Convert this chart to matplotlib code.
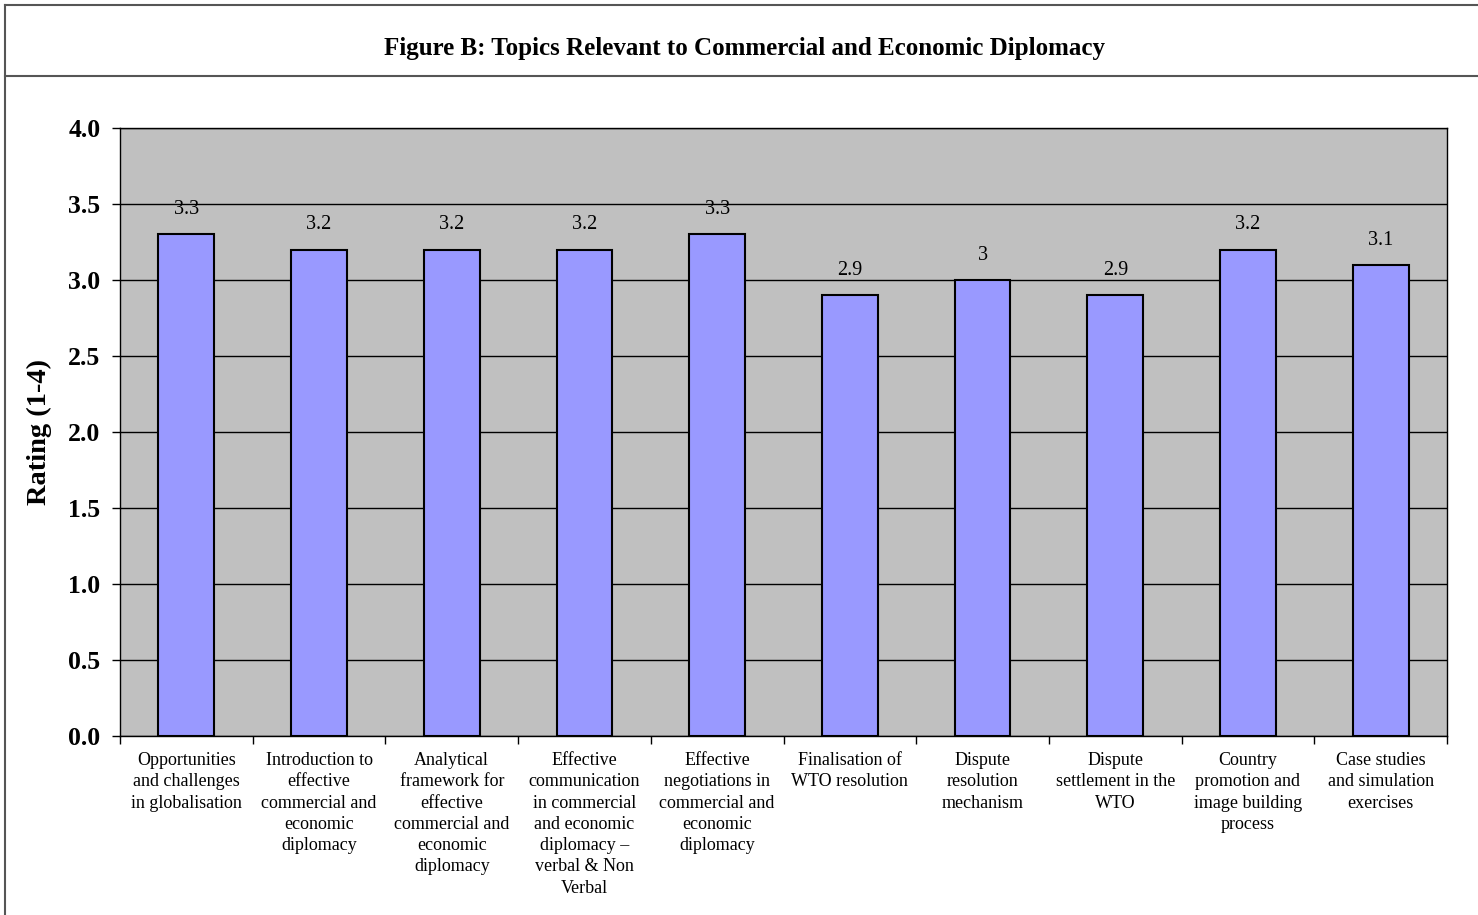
import numpy as np
import matplotlib
matplotlib.use("Agg")
import matplotlib.pyplot as plt
from matplotlib.lines import Line2D

plt.rcParams['font.family'] = ['Liberation Serif', 'DejaVu Serif']

topics = [
    "Opportunities\nand challenges\nin globalisation",
    "Introduction to\neffective\ncommercial and\neconomic\ndiplomacy",
    "Analytical\nframework for\neffective\ncommercial and\neconomic\ndiplomacy",
    "Effective\ncommunication\nin commercial\nand economic\ndiplomacy \u2013\nverbal & Non\nVerbal",
    "Effective\nnegotiations in\ncommercial and\neconomic\ndiplomacy",
    "Finalisation of\nWTO resolution",
    "Dispute\nresolution\nmechanism",
    "Dispute\nsettlement in the\nWTO",
    "Country\npromotion and\nimage building\nprocess",
    "Case studies\nand simulation\nexercises",
]
ratings = [3.3, 3.2, 3.2, 3.2, 3.3, 2.9, 3.0, 2.9, 3.2, 3.1]
yticks = [0.0, 0.5, 1.0, 1.5, 2.0, 2.5, 3.0, 3.5, 4.0]

fig = plt.figure(figsize=(14.78, 9.15), dpi=100)
ax = fig.add_axes([120 / 1478, 1 - 736 / 915, 1327 / 1478, 608 / 915])
ax.set_facecolor('#C0C0C0')

x = np.arange(len(ratings))
ax.bar(x, ratings, width=0.42, color='#9999FF', edgecolor='black', linewidth=1.5, zorder=3)

for xi, v in zip(x, ratings):
    ax.text(xi, v + 0.1, '%g' % v, ha='center', va='bottom', fontsize=14.5)

ax.set_xlim(-0.5, len(ratings) - 0.5)
ax.set_ylim(0, 4.0)
ax.set_yticks(yticks)
ax.set_yticklabels(['%.1f' % t for t in yticks], fontsize=18.5, fontweight='bold')
ax.yaxis.grid(True, color='black', linewidth=1, zorder=0)
ax.set_axisbelow(True)

ax.set_xticks(np.arange(len(ratings) + 1) - 0.5)
ax.set_xticklabels([])
ax.tick_params(axis='x', direction='out', length=6, width=1)
ax.tick_params(axis='y', direction='out', length=6, width=1, pad=8)
for xi, t in zip(x, topics):
    ax.text(xi, -0.105, t, ha='center', va='top', fontsize=13, linespacing=1.33)

for s in ax.spines.values():
    s.set_color('black')
    s.set_linewidth(1)

ax.set_ylabel('Rating (1-4)', fontsize=20.5, fontweight='bold', labelpad=12)

fig.text(744 / 1478, 1 - 48 / 915, 'Figure B: Topics Relevant to Commercial and Economic Diplomacy',
         ha='center', va='center', fontsize=18, fontweight='bold')

frame = '#555555'
fig.add_artist(Line2D([5 / 1478, 5 / 1478], [0, 1 - 5 / 915], transform=fig.transFigure, color=frame, lw=1.5))
fig.add_artist(Line2D([5 / 1478, 1], [1 - 5 / 915, 1 - 5 / 915], transform=fig.transFigure, color=frame, lw=1.5))
fig.add_artist(Line2D([5 / 1478, 1], [1 - 76 / 915, 1 - 76 / 915], transform=fig.transFigure, color=frame, lw=1.5))

fig.savefig('out.png', dpi=100)
